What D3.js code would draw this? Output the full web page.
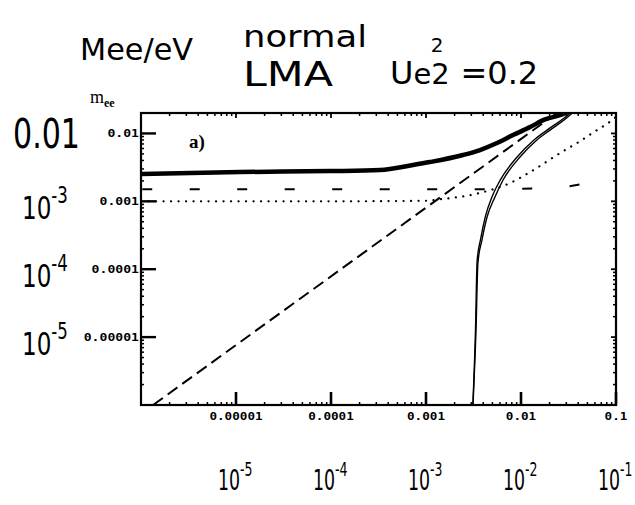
<!DOCTYPE html>
<html>
<head>
<meta charset="utf-8">
<script src="https://cdn.jsdelivr.net/npm/d3@7"></script>
<style>
  body { margin: 0; background: #fff; }
  svg { display: block; }
</style>
</head>
<body>
<svg id="chart" width="635" height="505"></svg>
<script>
// Axis ticks
const xTicks = [1e-5, 1e-4, 1e-3, 1e-2, 1e-1];
const xTickLabels = ["0.00001", "0.0001", "0.001", "0.01", "0.1"];
const yTicks = [1e-5, 1e-4, 1e-3, 1e-2];
const yTickLabels = ["0.00001", "0.0001", "0.001", "0.01"];

// Curves: [lightest mass (eV), m_ee (eV)]
const thickCurve = [
  [1e-6, 2.52e-3], [1.1e-5, 2.7e-3], [9.76e-5, 2.79e-3], [3.28e-4, 2.89e-3],
  [7.3e-4, 3.43e-3], [1.10e-3, 3.79e-3], [2.45e-3, 4.81e-3], [3.70e-3, 5.70e-3],
  [5.59e-3, 7.22e-3], [8.24e-3, 9.47e-3], [1.245e-2, 1.24e-2], [1.71e-2, 1.57e-2],
  [2.9e-2, 2.0e-2], [3.4e-2, 2.3e-2]
];
const thinCurveA = [
  [3.05e-3, 5e-7], [3.13e-3, 1.07e-6], [3.36e-3, 1.27e-5], [3.52e-3, 1.24e-4],
  [3.88e-3, 2.69e-4], [4.39e-3, 5.87e-4], [5.32e-3, 1.16e-3], [6.47e-3, 2.06e-3],
  [9.76e-3, 4.49e-3], [1.47e-2, 8.0e-3], [2.02e-2, 1.12e-2], [3.28e-2, 1.87e-2],
  [3.8e-2, 2.3e-2]
];
const thinCurveB = [
  [3.05e-3, 5e-7], [3.12e-3, 1.07e-6], [3.32e-3, 1.3e-5], [3.45e-3, 1.3e-4],
  [3.76e-3, 2.8e-4], [4.22e-3, 6.0e-4], [5.0e-3, 1.2e-3], [6.1e-3, 2.1e-3],
  [9.1e-3, 4.5e-3], [1.37e-2, 8.0e-3], [1.88e-2, 1.12e-2], [3.1e-2, 1.87e-2],
  [3.6e-2, 2.3e-2]
];
const dottedCurve = [
  [1e-6, 1.0e-3], [1e-4, 1.0e-3], [1e-3, 1.02e-3], [1.4e-3, 1.07e-3],
  [3.7e-3, 1.33e-3], [7.66e-3, 1.86e-3], [1.245e-2, 2.7e-3], [2.58e-2, 5.14e-3],
  [3.88e-2, 7.22e-3], [6.3e-2, 1.12e-2], [8.24e-2, 1.42e-2], [0.1, 1.75e-2]
];
const longDashCurve = [
  [1.03e-6, 1.5e-3], [1e-3, 1.5e-3], [1e-2, 1.53e-3], [2.5e-2, 1.6e-3], [4.2e-2, 1.78e-3]
];
const diagonalLine = [[1.34e-6, 1e-6], [2.39e-2, 2.0e-2]];

// Handwritten decade notes
const leftNotes = ["-3", "-4", "-5"];
const leftNoteValues = [1e-3, 1e-4, 1e-5];
const bottomNotes = ["-5", "-4", "-3", "-2", "-1"];

const svg = d3.select("#chart");
const plotL = 141, plotR = 616, plotT = 113, plotB = 405;

const x = d3.scaleLog().domain([1e-6, 0.1]).range([plotL, plotR]);
const y = d3.scaleLog().domain([1e-6, 0.02]).range([plotB, plotT]);

svg.append("rect").attr("width", 635).attr("height", 505).attr("fill", "#fff");

svg.append("clipPath").attr("id", "plotClip")
  .append("rect").attr("x", plotL).attr("y", plotT)
  .attr("width", plotR - plotL).attr("height", plotB - plotT);

const plot = svg.append("g").attr("clip-path", "url(#plotClip)");
const line = d3.line().x(d => x(d[0])).y(d => y(d[1])).curve(d3.curveMonotoneX);

// dashed diagonal
plot.append("path").datum(diagonalLine).attr("d", line)
  .attr("fill", "none").attr("stroke", "#000").attr("stroke-width", 2)
  .attr("stroke-dasharray", "12,6");

// long-dash curve
plot.append("path").datum(longDashCurve).attr("d", line)
  .attr("fill", "none").attr("stroke", "#000").attr("stroke-width", 2)
  .attr("stroke-dasharray", "10,37.5");

// dotted curve
plot.append("path").datum(dottedCurve).attr("d", line)
  .attr("fill", "none").attr("stroke", "#000").attr("stroke-width", 2.2)
  .attr("stroke-linecap", "round").attr("stroke-dasharray", "0.1,7.4");

// thin double curve
[thinCurveA, thinCurveB].forEach(c => {
  plot.append("path").datum(c).attr("d", line)
    .attr("fill", "none").attr("stroke", "#000").attr("stroke-width", 1.4);
});

// thick curve
plot.append("path").datum(thickCurve).attr("d", line)
  .attr("fill", "none").attr("stroke", "#000").attr("stroke-width", 4.5);

// frame
const axes = svg.append("g");
axes.append("rect").attr("x", plotL).attr("y", plotT)
  .attr("width", plotR - plotL).attr("height", plotB - plotT)
  .attr("fill", "none").attr("stroke", "#000").attr("stroke-width", 2.2);

// minor ticks
const xMinor = [], yMinor = [];
for (let e = -6; e <= -2; e++) for (let k = 2; k <= 9; k++) xMinor.push(k * Math.pow(10, e));
for (let e = -6; e <= -2; e++) for (let k = 2; k <= 9; k++) {
  const v = k * Math.pow(10, e);
  if (v < 0.02) yMinor.push(v);
}
xMinor.forEach(v => {
  axes.append("line").attr("x1", x(v)).attr("x2", x(v)).attr("y1", plotB).attr("y2", plotB - 3)
    .attr("stroke", "#000").attr("stroke-width", 1.5);
  axes.append("line").attr("x1", x(v)).attr("x2", x(v)).attr("y1", plotT).attr("y2", plotT + 3)
    .attr("stroke", "#000").attr("stroke-width", 1.5);
});
yMinor.forEach(v => {
  axes.append("line").attr("x1", plotL).attr("x2", plotL + 3).attr("y1", y(v)).attr("y2", y(v))
    .attr("stroke", "#000").attr("stroke-width", 1.5);
  axes.append("line").attr("x1", plotR).attr("x2", plotR - 3).attr("y1", y(v)).attr("y2", y(v))
    .attr("stroke", "#000").attr("stroke-width", 1.5);
});

// major ticks and labels
xTicks.forEach((v, i) => {
  axes.append("line").attr("x1", x(v)).attr("x2", x(v)).attr("y1", plotB).attr("y2", plotB - 13)
    .attr("stroke", "#000").attr("stroke-width", 2.6);
  axes.append("line").attr("x1", x(v)).attr("x2", x(v)).attr("y1", plotT).attr("y2", plotT + 5)
    .attr("stroke", "#000").attr("stroke-width", 1.8);
  const s = xTickLabels[i];
  axes.append("text").attr("x", x(v)).attr("y", plotB + 15)
    .attr("text-anchor", "middle")
    .attr("font-family", "DejaVu Sans Mono").attr("font-weight", "bold").attr("font-size", 10)
    .attr("textLength", s.length * 7.6).attr("lengthAdjust", "spacingAndGlyphs")
    .text(s);
});
yTicks.forEach((v, i) => {
  axes.append("line").attr("x1", plotL).attr("x2", plotL + 15).attr("y1", y(v)).attr("y2", y(v))
    .attr("stroke", "#000").attr("stroke-width", 2.4);
  axes.append("line").attr("x1", plotR).attr("x2", plotR - 5).attr("y1", y(v)).attr("y2", y(v))
    .attr("stroke", "#000").attr("stroke-width", 1.8);
  const s = yTickLabels[i];
  axes.append("text").attr("x", plotL - 2).attr("y", y(v) + 4)
    .attr("text-anchor", "end")
    .attr("font-family", "DejaVu Sans Mono").attr("font-weight", "bold").attr("font-size", 10)
    .attr("textLength", s.length * 7.9).attr("lengthAdjust", "spacingAndGlyphs")
    .text(s);
});

// axis name and panel tag
const mee = svg.append("text").attr("x", 90).attr("y", 103)
  .attr("font-family", "Liberation Serif").attr("font-size", 18);
mee.append("tspan").text("m");
mee.append("tspan").attr("dy", 4).attr("font-size", 12).attr("font-weight", "bold").text("ee");

svg.append("text").attr("x", 189).attr("y", 148)
  .attr("font-family", "Liberation Serif").attr("font-weight", "bold").attr("font-size", 19)
  .text("a)");

// handwritten notes
function hand(px, py, size, len, str) {
  const t = svg.append("text").attr("x", px).attr("y", py)
    .attr("font-family", "DejaVu Sans").attr("font-size", size).attr("fill", "#000")
    .text(str);
  if (len) t.attr("textLength", len).attr("lengthAdjust", "spacingAndGlyphs");
  return t;
}

hand(80, 60, 30, 113, "Mee/eV");
hand(243, 47, 30, 124, "normal");
hand(243, 86, 34, 90, "LMA");
const ue = svg.append("text").attr("transform", "translate(390,84)")
  .attr("font-family", "DejaVu Sans").attr("font-size", 32).attr("fill", "#000");
ue.append("tspan").text("U");
ue.append("tspan").attr("font-size", 29).text("e2");
ue.append("tspan").attr("font-size", 20).attr("dy", -32).attr("dx", -19).text("2");
ue.append("tspan").attr("dy", 32).attr("dx", 17).text("=0.2");

hand(13, 148, 40, 67, "0.01");

// "10" with a raised exponent, squeezed horizontally like the pen strokes
function powerNote(px, py, exp, size, sx) {
  const t = svg.append("text").attr("transform", `translate(${px},${py}) scale(${sx},1)`)
    .attr("font-family", "DejaVu Sans").attr("font-size", size).attr("fill", "#000");
  t.append("tspan").text("10");
  t.append("tspan").attr("dy", -size * 0.5).attr("font-size", size * 0.72).text(exp);
}
leftNotes.forEach((e, i) => powerNote(22, y(leftNoteValues[i]) + 18, e, 32, 0.72));
bottomNotes.forEach((e, i) => powerNote(x(xTicks[i]) - 18, 490, e, 28, 0.62));
</script>
</body>
</html>
